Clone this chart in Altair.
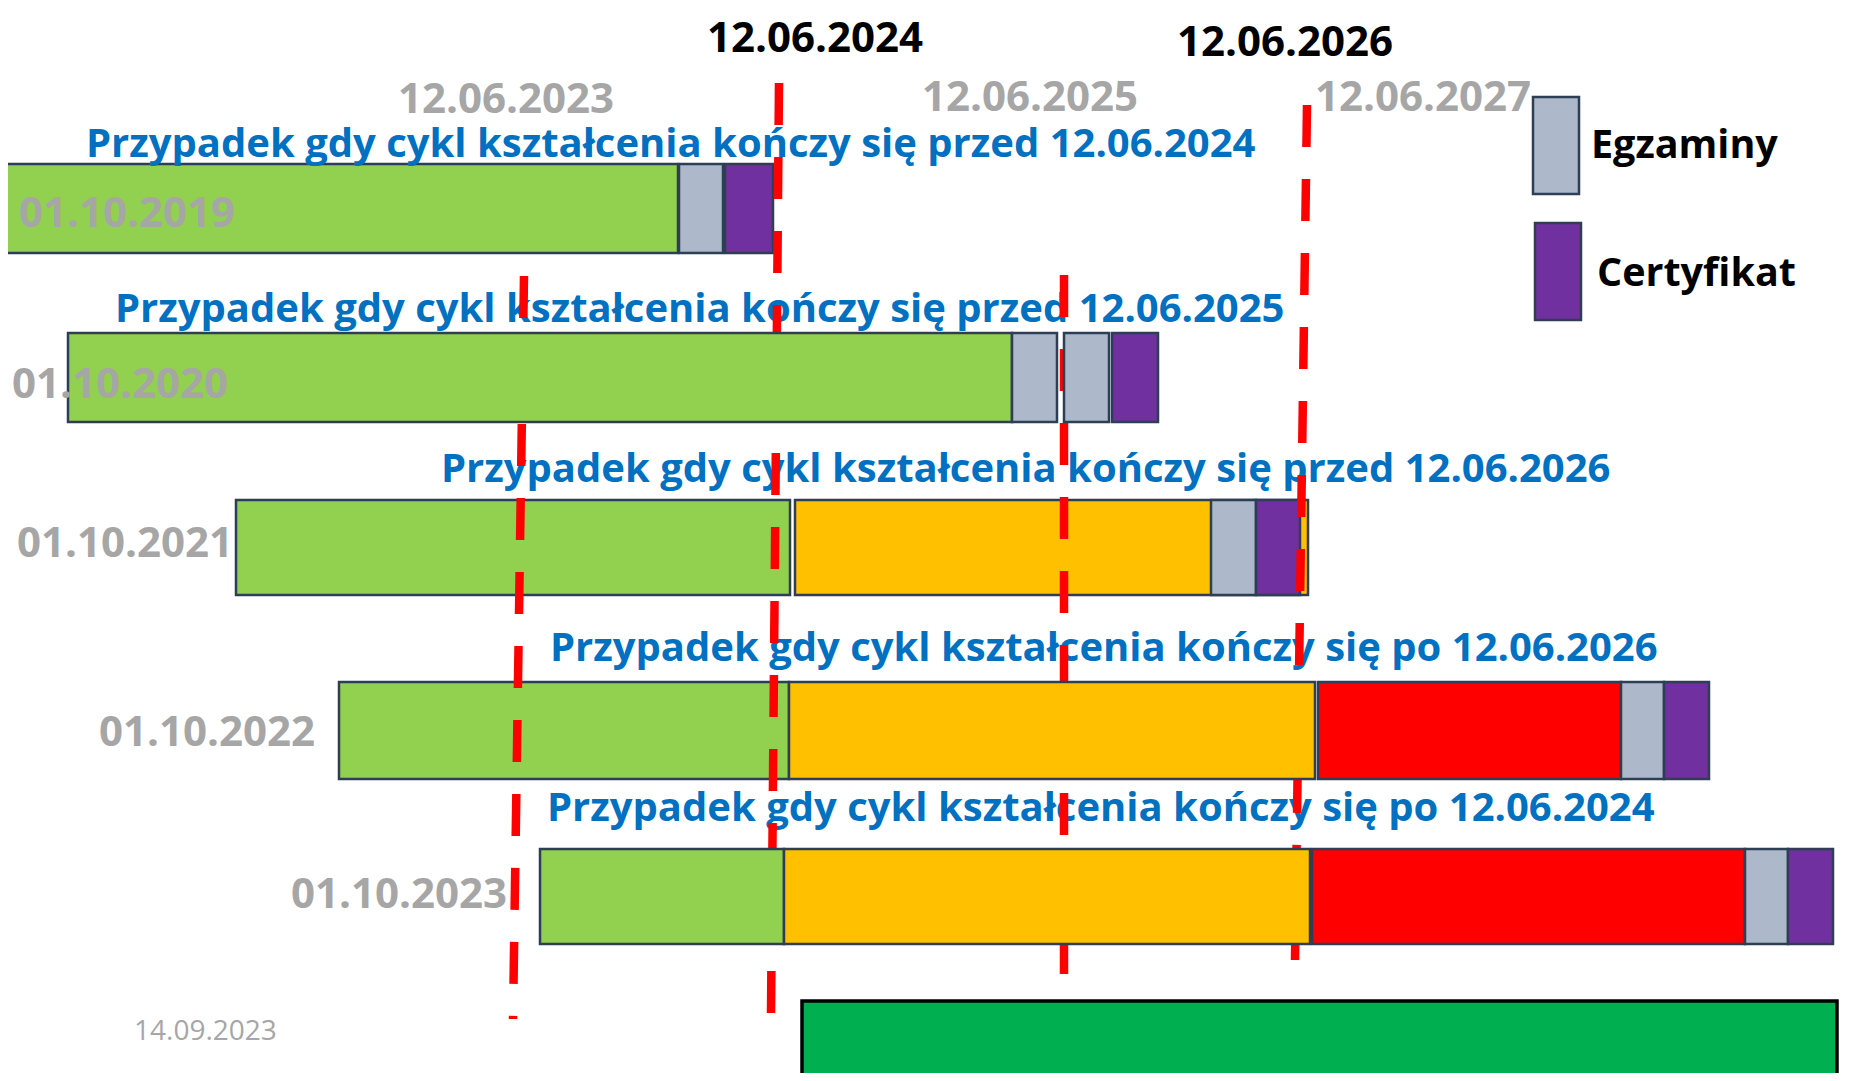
import altair as alt
import pandas as pd

# ---------------- data (diagram positions in timeline units) ----------------
row_labels = ["01.10.2019", "01.10.2020", "01.10.2021", "01.10.2022", "01.10.2023"]
row_label_x = [19, 12, 17, 99, 291]
row_label_base = [227, 398, 557, 746, 908]
row_top = [164, 333, 500, 682, 849]
row_bottom = [253, 422, 595, 779, 944]

seg_row = [0, 0, 0, 1, 1, 1, 1, 2, 2, 2, 2, 3, 3, 3, 3, 3, 4, 4, 4, 4, 4]
seg_start = [1, 679, 725, 68, 1012, 1064, 1112, 236, 795, 1211, 1256,
             339, 789, 1318, 1621, 1664, 540, 784, 1312, 1745, 1788]
seg_end = [678, 723, 773, 1012, 1057, 1109, 1158, 790, 1308, 1256, 1300,
           789, 1315, 1621, 1664, 1709, 784, 1310, 1745, 1788, 1833]
seg_kind = ["green", "exam", "cert", "green", "exam", "exam", "cert",
            "green", "yellow", "exam", "cert",
            "green", "yellow", "red", "exam", "cert",
            "green", "yellow", "red", "exam", "cert"]
seg_on_top = [0, 0, 0, 1, 1, 1, 1, 0, 0, 0, 0, 0, 1, 1, 1, 1, 1, 1, 1, 1, 1]

new_bar = {"x": 802, "x2": 1837, "y": 1001, "y2": 1080}

deadline_labels = ["12.06.2024", "12.06.2026", "12.06.2023", "12.06.2025", "12.06.2027"]
deadline_x = [707, 1177, 398, 922, 1315]
deadline_base = [52, 56, 113, 111, 111]
deadline_main = [1, 1, 0, 0, 0]

line_x_top = [524, 779, 1064, 1307]
line_y_top = [276, 83, 275, 105]
line_x_bottom = [513, 771, 1064, 1295]
line_y_bottom = [1019, 1013, 974, 960]

case_titles = [
    "Przypadek gdy cykl kształcenia kończy się przed 12.06.2024",
    "Przypadek gdy cykl kształcenia kończy się przed 12.06.2025",
    "Przypadek gdy cykl kształcenia kończy się przed 12.06.2026",
    "Przypadek gdy cykl kształcenia kończy się po 12.06.2026",
    "Przypadek gdy cykl kształcenia kończy się po 12.06.2024",
]
case_x = [86, 115, 441, 550, 547]
case_base = [157, 322, 482, 661, 821]

legend_names = ["Egzaminy", "Certyfikat"]
legend_kind = ["exam", "cert"]
legend_box_x = [1533, 1535]
legend_box_x2 = [1579, 1581]
legend_box_y = [97, 223]
legend_box_y2 = [194, 320]
legend_text_x = [1591, 1597]
legend_text_base = [158, 286]

note_text = "14.09.2023"
note_x, note_base = 134, 1040

palette = {"green": "#92D050", "yellow": "#FFC000", "red": "#FF0000",
           "exam": "#ADB9CA", "cert": "#7030A0", "new": "#00B050"}
BORDER = "#2E3F55"
FONT = "Open Sans"

# ---------------- tables ----------------
segs = pd.DataFrame({
    "x": seg_start, "x2": seg_end,
    "y": [row_top[r] for r in seg_row], "y2": [row_bottom[r] for r in seg_row],
    "fill": [palette[k] for k in seg_kind], "top": seg_on_top,
})
legend_df = pd.DataFrame({"x": legend_box_x, "x2": legend_box_x2, "y": legend_box_y,
                          "y2": legend_box_y2, "fill": [palette[k] for k in legend_kind]})
new_df = pd.DataFrame([dict(new_bar, fill=palette["new"])])
lines_df = pd.DataFrame({"x": line_x_top, "y": line_y_top, "x2": line_x_bottom, "y2": line_y_bottom})

xs = alt.Scale(domain=[8, 1856], nice=False, zero=False)
ys = alt.Scale(domain=[8, 1073], nice=False, zero=False, reverse=True)


def rects(df, stroke=BORDER, sw=2.5):
    return alt.Chart(df).mark_rect(stroke=stroke, strokeWidth=sw, clip=True).encode(
        x=alt.X("x:Q", scale=xs, axis=None), x2="x2:Q",
        y=alt.Y("y:Q", scale=ys, axis=None), y2="y2:Q",
        color=alt.Color("fill:N", scale=None),
    )


def texts(df, color, size, weight="bold"):
    return alt.Chart(df).mark_text(align="left", baseline="alphabetic", font=FONT,
                                   fontSize=size, fontWeight=weight, color=color).encode(
        x=alt.X("x:Q", scale=xs, axis=None),
        y=alt.Y("y:Q", scale=ys, axis=None),
        text="t:N",
    )


under = rects(segs[segs["top"] == 0])
over = rects(segs[segs["top"] == 1])
new = rects(new_df, stroke="black", sw=3.5)
legend_boxes = rects(legend_df)

title_layer = texts(pd.DataFrame({"x": case_x, "y": case_base, "t": case_titles}), "#0070C0", 40)

dl = pd.DataFrame({"x": deadline_x, "y": deadline_base, "t": deadline_labels, "m": deadline_main})
dl_main = texts(dl[dl["m"] == 1], "black", 42)
dl_grey = texts(dl[dl["m"] == 0], "#A6A6A6", 42)

rules = alt.Chart(lines_df).mark_rule(color="#FF0000", strokeWidth=8.5, strokeDash=[42, 32],
                                      strokeCap="butt").encode(
    x=alt.X("x:Q", scale=xs, axis=None), y=alt.Y("y:Q", scale=ys, axis=None),
    x2="x2:Q", y2="y2:Q",
)

row_lab = texts(pd.DataFrame({"x": row_label_x, "y": row_label_base, "t": row_labels}), "#A6A6A6", 42)
legend_txt = texts(pd.DataFrame({"x": legend_text_x, "y": legend_text_base, "t": legend_names}), "black", 39.5)
note = texts(pd.DataFrame({"x": [note_x], "y": [note_base], "t": [note_text]}), "#A6A6A6", 28, "normal")

chart = alt.layer(
    under, title_layer, rules, over, new, row_lab, dl_main, dl_grey, legend_boxes, legend_txt, note
).properties(
    width=1848, height=1065,
    autosize=alt.AutoSizeParams(type="fit", contains="padding"),
    padding=0, background="white",
).configure_view(stroke=None)

chart.save("out.html", embed_options={"renderer": "svg", "actions": False})
